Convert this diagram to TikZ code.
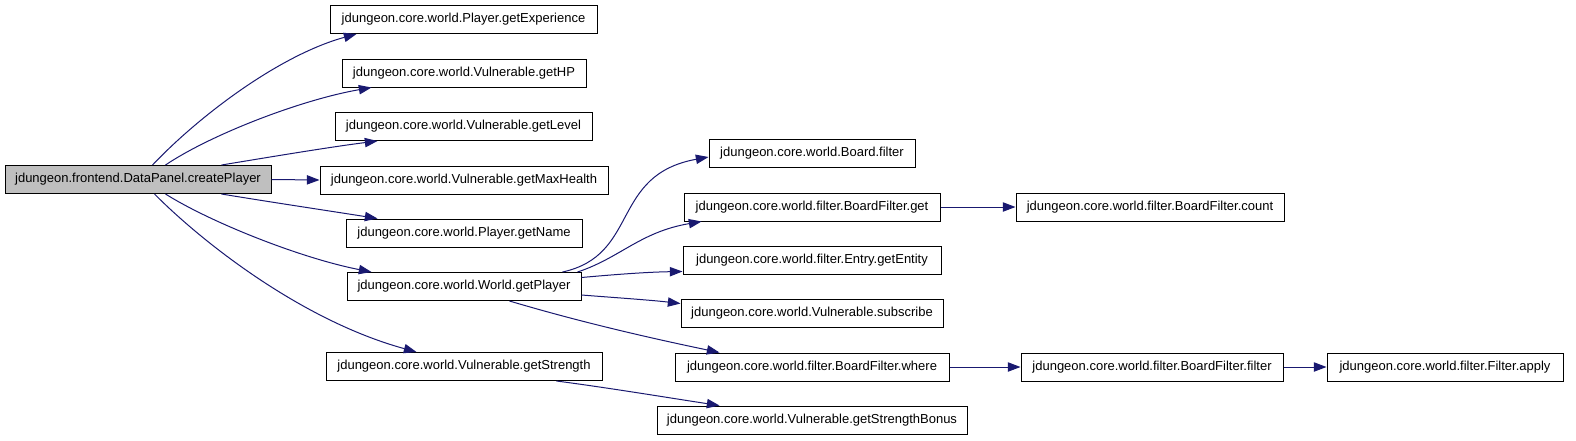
\documentclass[tikz,border=0pt]{standalone}
\usepackage{fontspec}
\setmainfont{Liberation Sans}
\usetikzlibrary{arrows.meta,calc}
\definecolor{edgeblue}{HTML}{191970}
\definecolor{rootgray}{HTML}{BFBFBF}
\tikzset{
  box/.style={draw=black,line width=0.75pt,fill=white,inner sep=0pt,minimum height=21pt,
    font=\fontsize{9.75}{11}\selectfont,anchor=center},
  rootbox/.style={box,fill=rootgray},
  call/.style={draw=edgeblue,line width=0.75pt,-{Triangle[length=9.5pt,width=7pt]}}
}
\newcommand\bx[6][box]{\node[#1,minimum width=#5*0.75pt] (#2) at (#3,#4) {#6};}
\begin{document}
\begin{tikzpicture}[x=0.75pt,y=-0.75pt]
\useasboundingbox (0,0) rectangle (1576,440);
\bx[rootbox]{root}{138}{179.5}{266}{jdungeon.frontend.DataPanel.createPlayer}
\bx{exp}{463.5}{19.5}{267}{jdungeon.core.world.Player.getExperience}
\bx{hp}{464}{73}{244}{jdungeon.core.world.Vulnerable.getHP}
\bx{lvl}{463.5}{126.5}{257}{jdungeon.core.world.Vulnerable.getLevel}
\bx{maxh}{464}{180}{288}{jdungeon.core.world.Vulnerable.getMaxHealth}
\bx{name}{464}{233}{236}{jdungeon.core.world.Player.getName}
\bx{gp}{464}{286.5}{234}{jdungeon.core.world.World.getPlayer}
\bx{str}{464}{366.5}{276}{jdungeon.core.world.Vulnerable.getStrength}
\bx{bfil}{812}{153}{206}{jdungeon.core.world.Board.filter}
\bx{bget}{812}{207}{256}{jdungeon.core.world.filter.BoardFilter.get}
\bx{gent}{812}{260}{258}{jdungeon.core.world.filter.Entry.getEntity}
\bx{subs}{812}{313}{262}{jdungeon.core.world.Vulnerable.subscribe}
\bx{where}{812}{367}{274}{jdungeon.core.world.filter.BoardFilter.where}
\bx{sb}{812}{420}{310}{jdungeon.core.world.Vulnerable.getStrengthBonus}
\bx{count}{1150}{207}{268}{jdungeon.core.world.filter.BoardFilter.count}
\bx{bff}{1152}{367}{262}{jdungeon.core.world.filter.BoardFilter.filter}
\bx{apply}{1445}{367}{236}{jdungeon.core.world.filter.Filter.apply}

% from root
\draw[call] ($(root.north west)+(148,0)$) .. controls (200,115) and (280,55) .. ($(exp.south west)+(27,0)$);
\draw[call] ($(root.north west)+(161,0)$) .. controls (210,135) and (300,100) .. ($(hp.south west)+(30,0)$);
\draw[call] ($(root.north west)+(217,0)$) .. controls (270,157) and (330,147) .. ($(lvl.south west)+(43,0)$);
\draw[call] (root.east) -- (maxh.west);
\draw[call] ($(root.south west)+(217,0)$) .. controls (270,202) and (330,211) .. ($(name.north west)+(32,0)$);
\draw[call] ($(root.south west)+(161,0)$) .. controls (210,222) and (300,258) .. ($(gp.north west)+(25,0)$);
\draw[call] ($(root.south west)+(150,0)$) .. controls (200,240) and (300,320) .. ($(str.north west)+(91,0)$);
% from getPlayer
\draw[call] ($(gp.north west)+(216,0)$) .. controls (640,255) and (610,175) .. ($(bfil.west)+(0,4)$);
\draw[call] ($(gp.north east)+(-4,0)$) .. controls (620,258) and (640,232) .. ($(bget.south west)+(18,0)$);
\draw[call] ($(gp.east)+(0,-9)$) .. controls (620,274) and (650,272) .. ($(gent.west)+(0,11.5)$);
\draw[call] ($(gp.east)+(0,8.5)$) .. controls (620,298) and (650,300) .. ($(subs.west)+(0,-9.5)$);
\draw[call] ($(gp.south west)+(163,0)$) .. controls (580,322) and (650,338) .. ($(where.north west)+(45,0)$);
% others
\draw[call] ($(str.south west)+(231,0)$) .. controls (610,388) and (670,398) .. ($(sb.north west)+(63,0)$);
\draw[call] (bget.east) -- (count.west);
\draw[call] (where.east) -- (bff.west);
\draw[call] (bff.east) -- (apply.west);
\end{tikzpicture}
\end{document}
